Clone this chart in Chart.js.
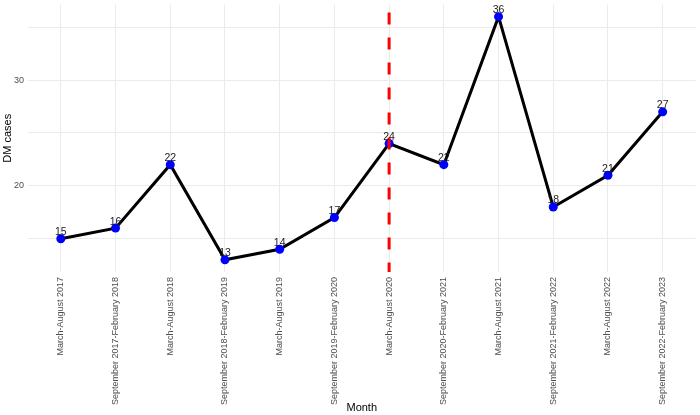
<!DOCTYPE html>
<html>
<head>
<meta charset="utf-8">
<script src="https://cdn.jsdelivr.net/npm/chart.js@4"></script>
<style>
html,body{margin:0;padding:0;background:#fff}
#wrap{width:700px;height:415px}
</style>
</head>
<body>
<div id="wrap"><canvas id="chart" width="700" height="415"></canvas></div>
<script>
const months = [
"March-August 2017","September 2017-February 2018","March-August 2018",
"September 2018-February 2019","March-August 2019","September 2019-February 2020",
"March-August 2020","September 2020-February 2021","March-August 2021",
"September 2021-February 2022","March-August 2022","September 2022-February 2023"
]
const cases = [15,16,22,13,14,17,24,22,36,18,21,27]
const yTicks = [15,20,25,30,35]
const yLabelled = [20,30]
const markerIndex = 6   // March-August 2020

const points = cases.map((v,i)=>({x:i,y:v}))

// red dashed vertical line + value labels
const extras = {
id:"extras",
afterDatasetsDraw(chart){
const ctx = chart.ctx
const xs = chart.scales.x
const area = chart.chartArea
const px = xs.getPixelForValue(markerIndex)
ctx.save()
ctx.strokeStyle = "#FF0000"
ctx.lineWidth = 3
ctx.setLineDash([12,13])
ctx.beginPath()
ctx.moveTo(px, area.top + 8)
ctx.lineTo(px, area.bottom)
ctx.stroke()
ctx.setLineDash([])

const meta = chart.getDatasetMeta(0)
ctx.fillStyle = "#1a1a1a"
ctx.font = "10.5px 'Liberation Sans', Arial, sans-serif"
ctx.textAlign = "center"
ctx.textBaseline = "alphabetic"
meta.data.forEach((pt,i)=>{
ctx.fillText(String(cases[i]), pt.x, pt.y - 3.5)
})
ctx.restore()
}
}

new Chart(document.getElementById("chart"),{
type:"line",
data:{
datasets:[{
data:points,
borderColor:"#000000",
borderWidth:3,
pointBackgroundColor:"#0000FF",
pointBorderWidth:0,
pointRadius:4.5,
tension:0
}]
},
options:{
responsive:false,
animation:false,
layout:{padding:{top:4,right:4,left:0,bottom:0}},
plugins:{legend:{display:false},tooltip:{enabled:false}},
scales:{
x:{
type:"linear",
min:-0.6,
max:11.6,
afterBuildTicks:axis=>{axis.ticks = months.map((m,i)=>({value:i}))},
afterFit:s=>{s.height = 143},
border:{display:false},
grid:{color:"#EBEBEB",lineWidth:1,drawTicks:false},
ticks:{
autoSkip:false,
maxRotation:90,
minRotation:90,
padding:5,
color:"#4D4D4D",
font:{family:"'Liberation Sans', Arial, sans-serif",size:9},
callback:v=>months[v]
},
title:{
display:true,
text:"Month",
color:"#000000",
font:{family:"'Liberation Sans', Arial, sans-serif",size:11},
padding:{top:0,bottom:0}
}
},
y:{
min:11.85,
max:37.15,
afterBuildTicks:axis=>{axis.ticks = yTicks.map(v=>({value:v}))},
afterFit:s=>{s.width = 28; s.paddingTop = 0; s.paddingBottom = 0},
border:{display:false},
grid:{color:"#EBEBEB",lineWidth:1,drawTicks:false},
ticks:{
padding:4,
color:"#4D4D4D",
font:{family:"'Liberation Sans', Arial, sans-serif",size:9},
callback:v=>yLabelled.includes(v) ? String(v) : ""
},
title:{
display:true,
text:"DM cases",
color:"#000000",
font:{family:"'Liberation Sans', Arial, sans-serif",size:11},
padding:{top:1,bottom:0}
}
}
}
},
plugins:[extras]
})
</script>
</body>
</html>
